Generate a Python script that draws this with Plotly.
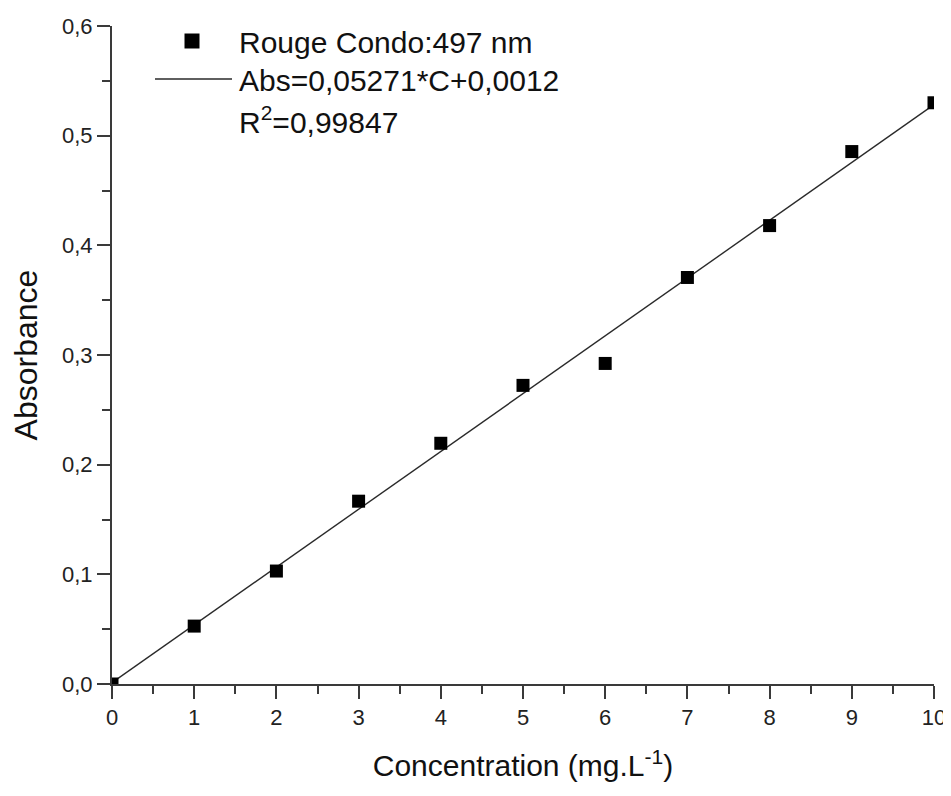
import plotly.graph_objects as go

# Data
concentration = [0, 1, 2, 3, 4, 5, 6, 7, 8, 9, 10]
absorbance = [0.0, 0.0528, 0.1030, 0.1667, 0.2195, 0.2723, 0.2923, 0.3707, 0.4180, 0.4855, 0.5300]
slope = 0.05271
intercept = 0.0012
fit_x = [0, 10]
fit_y = [slope * c + intercept for c in fit_x]

legend_series = "Rouge Condo:497 nm"
legend_fit = "Abs=0,05271*C+0,0012"
legend_r2 = "R<sup>2</sup>=0,99847"

# page has an 8px body margin; figure is sized to fit inside the 951x796 window
OFF = 8
W, H = 951 - OFF, 796 - 2 * OFF
# desired plot area in page pixels
PX0, PX1, PY0, PY1 = 112, 934, 26, 684
L, R = PX0 - OFF, W - (PX1 - OFF)
T, B = PY0 - OFF, H - (PY1 - OFF)

def px(x):
    return (x - PX0) / (PX1 - PX0)

def py(y):
    return (PY1 - y) / (PY1 - PY0)

FONT = "Liberation Sans, Arial, sans-serif"
AX = "#3a3a3a"

fig = go.Figure()
fig.add_trace(go.Scatter(x=fit_x, y=fit_y, mode="lines",
                         line=dict(color="#2a2a2a", width=1.4),
                         showlegend=False, hoverinfo="skip"))
fig.add_trace(go.Scatter(x=concentration, y=absorbance, mode="markers",
                         marker=dict(symbol="square", size=13, color="black",
                                     line=dict(width=0)),
                         showlegend=False, cliponaxis=True))

axis_common = dict(showline=True, linecolor=AX, linewidth=2, ticks="outside",
                   ticklen=13, tickwidth=2, tickcolor=AX, showgrid=False,
                   zeroline=False, mirror=False, automargin=False,
                   ticklabeloverflow="allow",
                   tickfont=dict(family=FONT, size=22, color="#222"))

fig.update_xaxes(range=[0, 10], dtick=1, tick0=0, tickformat="d",
                 minor=dict(ticks="outside", ticklen=8, tickwidth=2, tickcolor=AX, dtick=0.5),
                 title=dict(text="Concentration (mg.L<sup>-1</sup>)",
                            font=dict(family=FONT, size=30, color="#111"), standoff=26),
                 **axis_common)
fig.update_yaxes(range=[0, 0.6], dtick=0.1, tick0=0, tickformat=".1f",
                 minor=dict(ticks="outside", ticklen=8, tickwidth=2, tickcolor=AX, dtick=0.05),
                 title=dict(text="Absorbance",
                            font=dict(family=FONT, size=32, color="#111"), standoff=26),
                 **axis_common)

# custom legend
fig.add_shape(type="rect", xref="paper", yref="paper",
              xsizemode="pixel", ysizemode="pixel",
              xanchor=px(192), yanchor=py(41), x0=-7.5, x1=7.5, y0=-7.5, y1=7.5,
              fillcolor="black", line=dict(width=0))
fig.add_shape(type="line", xref="paper", yref="paper",
              x0=px(155), x1=px(232), y0=py(79), y1=py(79),
              line=dict(color="#2a2a2a", width=1.4))
for txt, yy in [(legend_series, 42), (legend_fit, 81), (legend_r2, 120)]:
    fig.add_annotation(text=txt, xref="paper", yref="paper", x=px(237), y=py(yy),
                       xanchor="left", yanchor="middle", showarrow=False,
                       font=dict(family=FONT, size=30, color="#111"))

fig.update_layout(width=W, height=H, margin=dict(l=L, r=R, t=T, b=B, autoexpand=False),
                  plot_bgcolor="white", paper_bgcolor="white",
                  separators=", ", showlegend=False)

fig.write_html("out.html")
